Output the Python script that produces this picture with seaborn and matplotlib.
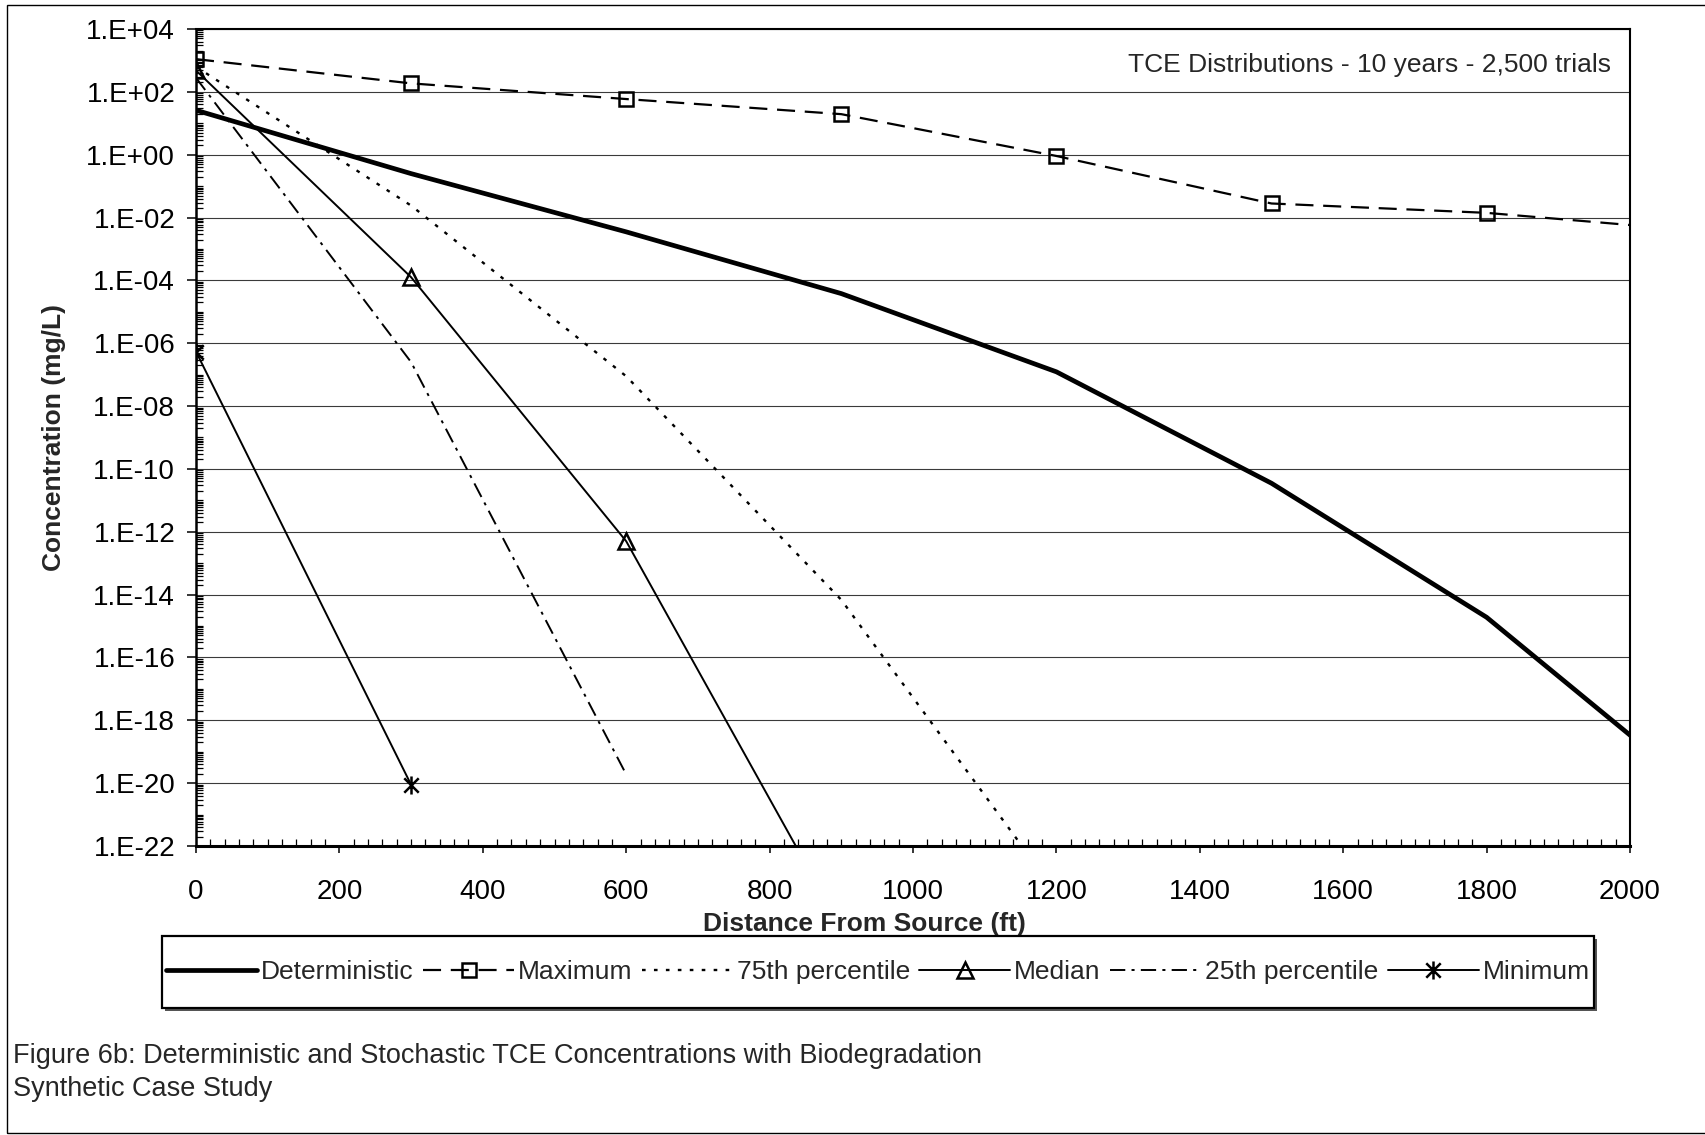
import numpy as np
import pandas as pd
import matplotlib
matplotlib.use("Agg")
import matplotlib.pyplot as plt
import seaborn as sns
from matplotlib.patches import Rectangle
from matplotlib.path import Path
from matplotlib.ticker import FixedLocator, FixedFormatter, LogLocator, MultipleLocator, NullFormatter

# ---------------- data ----------------
distance_ft = [0, 300, 600, 900, 1200, 1500, 1800, 2100]
deterministic = [2.6e1, 2.5e-1, 3.5e-3, 3.8e-5, 1.23e-7, 3.5e-11, 1.9e-15, 4.5e-21]
maximum = [1.1e3, 1.86e2, 5.9e1, 1.95e1, 9.1e-1, 2.8e-2, 1.41e-2, 3.7e-3]
pct75 = [6.3e2, 2.4e-2, 8.9e-8, 6.8e-15, 3.2e-24, np.nan, np.nan, np.nan]
median = [4.8e2, 1.26e-4, 5.0e-13, 2.5e-25, np.nan, np.nan, np.nan, np.nan]
pct25 = [2.8e2, 2.5e-7, 1.9e-20, np.nan, np.nan, np.nan, np.nan, np.nan]
minimum = [5.4e-7, 8.9e-21, np.nan, np.nan, np.nan, np.nan, np.nan, np.nan]

series_names = ["Deterministic", "Maximum", "75th percentile", "Median",
                "25th percentile", "Minimum"]
series_values = [deterministic, maximum, pct75, median, pct25, minimum]

x_ticks = [0, 200, 400, 600, 800, 1000, 1200, 1400, 1600, 1800, 2000]
x_tick_labels = ["0", "200", "400", "600", "800", "1000", "1200", "1400",
                 "1600", "1800", "2000"]
y_tick_exponents = [4, 2, 0, -2, -4, -6, -8, -10, -12, -14, -16, -18, -20, -22]
y_tick_labels = ["1.E+04", "1.E+02", "1.E+00", "1.E-02", "1.E-04", "1.E-06",
                 "1.E-08", "1.E-10", "1.E-12", "1.E-14", "1.E-16", "1.E-18",
                 "1.E-20", "1.E-22"]

x_label = "Distance From Source (ft)"
y_label = "Concentration (mg/L)"
annotation = "TCE Distributions - 10 years - 2,500 trials"
caption_1 = "Figure 6b: Deterministic and Stochastic TCE Concentrations with Biodegradation"
caption_2 = "Synthetic Case Study"

# ---------------- styles ----------------
sns.set_style("white")
plt.rcParams["font.family"] = ["Liberation Sans", "DejaVu Sans"]
plt.rcParams["lines.scale_dashes"] = False

# Excel-like star marker: an X with a vertical bar
star = Path([(0, -1), (0, 1), (-0.8, -0.8), (0.8, 0.8), (-0.8, 0.8), (0.8, -0.8)],
            [Path.MOVETO, Path.LINETO, Path.MOVETO, Path.LINETO, Path.MOVETO, Path.LINETO])

styles = {
    "Deterministic": dict(lw=3.4, ls="-", marker=None, ms=0),
    "Maximum": dict(lw=1.6, ls=(0, (13, 7)), marker="s", ms=9.5),
    "75th percentile": dict(lw=1.7, ls=(0, (2.6, 6.0)), marker=None, ms=0),
    "Median": dict(lw=1.4, ls="-", marker="^", ms=11),
    "25th percentile": dict(lw=1.4, ls=(0, (11, 4.5, 2.2, 4.5)), marker=None, ms=0),
    "Minimum": dict(lw=1.4, ls="-", marker=star, ms=13),
}

W, H = 1705, 1135
def fx(px):
    return px / W
def fy(py):
    return 1 - py / H

fig = plt.figure(figsize=(W / 100, H / 100), dpi=100)
fig.patch.set_facecolor("white")
ax = fig.add_axes([fx(196), fy(846), (1630 - 196) / W, (846 - 29) / H])
ax.set_yscale("log")

for name, vals in zip(series_names, series_values):
    st = styles[name]
    kws = dict(color="black", lw=st["lw"], ls=st["ls"], label=name)
    if st["marker"] is not None:
        kws.update(marker=st["marker"], markersize=st["ms"],
                   markerfacecolor="none", markeredgecolor="black",
                   markeredgewidth=1.8)
    df = pd.DataFrame({"distance": distance_ft, "conc": vals}).dropna()
    sns.lineplot(data=df, x="distance", y="conc", ax=ax, legend=False,
                 sort=False, errorbar=None, **kws)

ax.set_xlim(0, 2000)
ax.set_ylim(1e-22, 1e4)

# ticks
ax.xaxis.set_major_locator(FixedLocator(x_ticks))
ax.xaxis.set_major_formatter(FixedFormatter(x_tick_labels))
ax.xaxis.set_minor_locator(MultipleLocator(20))
y_ticks = [10.0 ** e for e in y_tick_exponents]
ax.yaxis.set_major_locator(FixedLocator(y_ticks))
ax.yaxis.set_major_formatter(FixedFormatter(y_tick_labels))
ax.yaxis.set_minor_locator(LogLocator(base=10, subs=np.arange(1, 10), numticks=200))
ax.yaxis.set_minor_formatter(NullFormatter())

ax.tick_params(which="both", bottom=True, left=True, top=False, right=False)
ax.tick_params(axis="x", which="major", direction="out", length=5, width=1.1,
               pad=18.5, labelsize=20, colors="black")
ax.tick_params(axis="x", which="minor", direction="in", length=5, width=0.9,
               colors="black")
ax.tick_params(axis="y", which="major", direction="out", length=6.5, width=1.1,
               pad=8.5, labelsize=20, colors="black")
ax.tick_params(axis="y", which="minor", direction="in", length=5, width=0.9,
               colors="black")

ax.grid(False)
ax.yaxis.grid(True, which="major", color="#3a3a3a", lw=0.8)
ax.set_axisbelow(True)

for side in ["top", "right"]:
    ax.spines[side].set_linewidth(1.5)
    ax.spines[side].set_color("black")
ax.spines["left"].set_linewidth(1.8)
ax.spines["bottom"].set_linewidth(2.2)
ax.spines["left"].set_color("black")
ax.spines["bottom"].set_color("black")

# axis labels
ax.set_xlabel(x_label, fontsize=19, fontweight="bold")
ax.xaxis.set_label_coords((864 - 196) / 1434, -(924 - 846) / 817)
ax.xaxis.label.set_verticalalignment("center")
ax.set_ylabel(y_label, fontsize=19, fontweight="bold")
ax.yaxis.set_label_coords(-(196 - 54) / 1434, 0.5)
ax.yaxis.label.set_verticalalignment("center")

# annotation inside plot
fig.text(fx(1611), fy(72), annotation, ha="right", va="baseline", fontsize=19)

# legend box (with shadow) and legend
shadow = Rectangle((fx(165), fy(1011)), (1594 - 162) / W, (1008 - 936) / H,
                   transform=fig.transFigure, facecolor="#555555",
                   edgecolor="none", zorder=1)
box = Rectangle((fx(162), fy(1008)), (1594 - 162) / W, (1008 - 936) / H,
                transform=fig.transFigure, facecolor="white",
                edgecolor="black", lw=1.6, zorder=2)
fig.add_artist(shadow)
fig.add_artist(box)
handles, labels = ax.get_legend_handles_labels()
leg = fig.legend(handles, labels, ncol=6, loc="center",
                 bbox_to_anchor=(fx(878), fy(972)), frameon=False,
                 fontsize=19, handlelength=3.45, handletextpad=0.15,
                 columnspacing=0.35, borderpad=0.2)
leg.set_zorder(5)

# caption
fig.text(fx(13), fy(1063), caption_1, ha="left", va="baseline", fontsize=19.5)
fig.text(fx(13), fy(1096), caption_2, ha="left", va="baseline", fontsize=19.5)

# outer border
border = Rectangle((fx(7), fy(1133)), (1730 - 7) / W, (1133 - 5) / H,
                   transform=fig.transFigure, fill=False, edgecolor="black",
                   lw=1.0, zorder=0)
fig.add_artist(border)

fig.savefig("out.png", dpi=100, facecolor="white")
